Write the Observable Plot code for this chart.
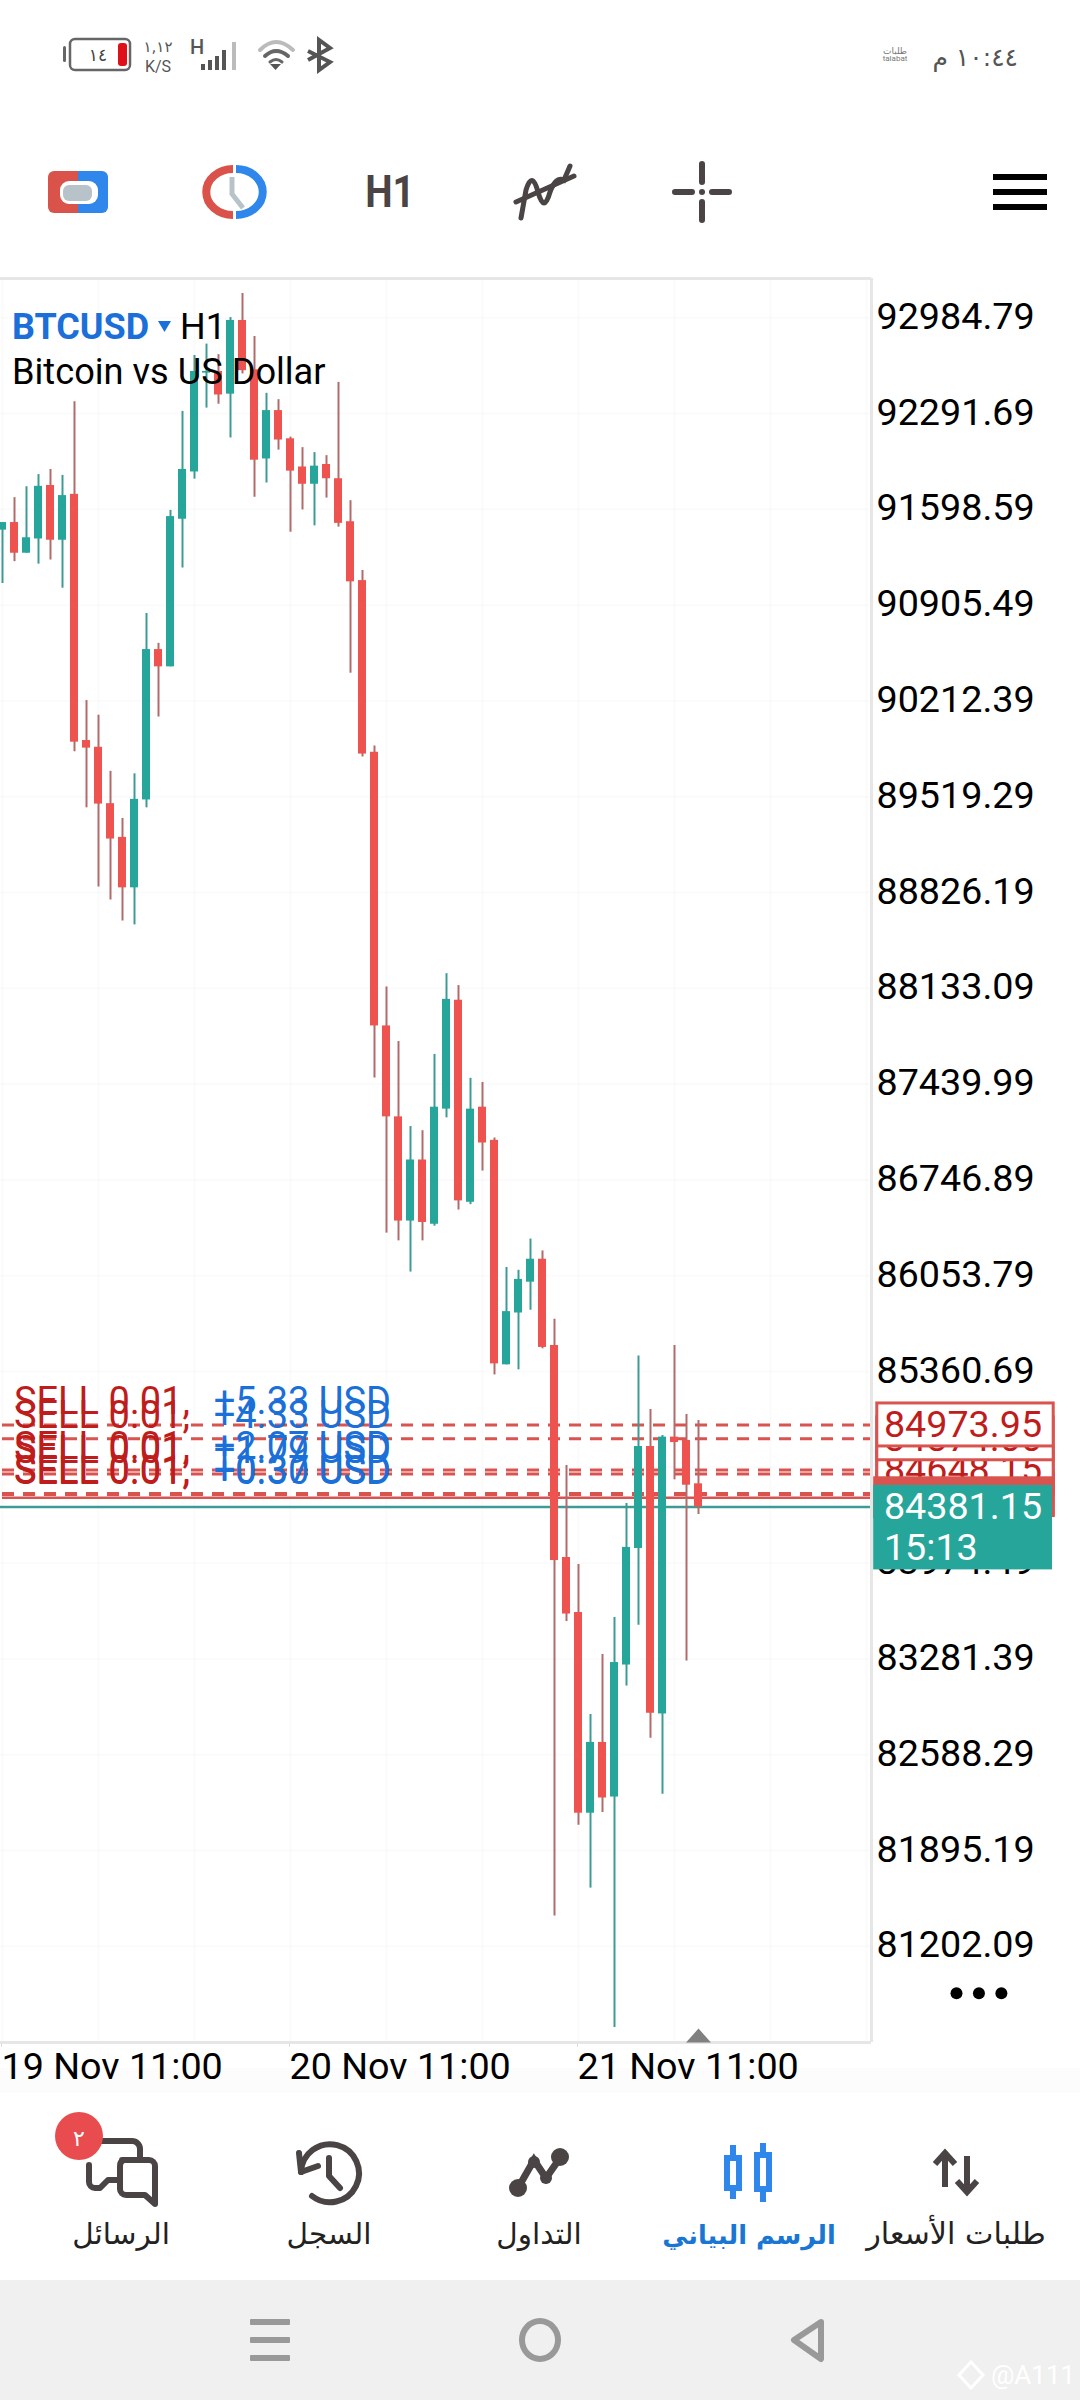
<!DOCTYPE html>
<html><head><meta charset="utf-8">
<script src="https://cdn.jsdelivr.net/npm/d3@7"></script>
<script src="https://cdn.jsdelivr.net/npm/@observablehq/plot@0.6"></script>
<style>
html,body{margin:0;padding:0;background:#fff;width:1080px;height:2400px;overflow:hidden;font-family:Roboto,sans-serif}
#chart{position:absolute;left:0;top:270px;width:1080px}
#chart svg{display:block;background:transparent}
#chrome{position:absolute;left:0;top:0}
.t{position:absolute;font-family:Roboto;white-space:nowrap}
</style></head><body>
<svg id="chrome" width="1080" height="2400" viewBox="0 0 1080 2400" xmlns="http://www.w3.org/2000/svg">
  <rect x="0" y="2068" width="1080" height="25" fill="#fcfcfc"/>
  <rect x="0" y="2280" width="1080" height="120" fill="#f0f0f0"/>
  <!-- status bar -->
  <rect x="63" y="46" width="3" height="16" rx="1.5" fill="#666"/>
  <rect x="70" y="39" width="60" height="31" rx="5" fill="#fff" stroke="#666" stroke-width="2.5"/>
  <rect x="118" y="43" width="9" height="23" rx="3" fill="#e0101a"/>
  <text x="98" y="61" text-anchor="middle" font-family="DejaVu Sans" font-size="17" fill="#444">١٤</text>
  <text x="158" y="52" text-anchor="middle" font-family="DejaVu Sans" font-size="15" fill="#555">١,١٢</text>
  <text x="158" y="72" text-anchor="middle" font-family="Roboto" font-size="16" fill="#555">K/S</text>
  <text x="197" y="54" text-anchor="middle" font-family="Roboto" font-weight="500" font-size="20" fill="#555">H</text>
  <g fill="#555"><rect x="201" y="64" width="4" height="6"/><rect x="208" y="60" width="4" height="10"/><rect x="215" y="56" width="4" height="14"/><rect x="222" y="50" width="4" height="20"/></g>
  <rect x="232" y="42" width="4" height="28" fill="#bbb"/>
  <g fill="none" stroke-linecap="round"><path d="M260 50 Q276 34 293 50" stroke="#bbb" stroke-width="4"/><path d="M265 56 Q276 46 288 56" stroke="#666" stroke-width="4"/><path d="M270 62 Q276 57 282 62" stroke="#666" stroke-width="3"/></g>
  <path d="M270 64 L281 64 L275.5 70 Z" fill="#555"/>
  <path d="M308 51 L330 62 L319 70 L319 40 L330 48 L308 60" fill="none" stroke="#555" stroke-width="4"/>
  <text x="895" y="54" text-anchor="middle" font-family="DejaVu Sans" font-size="9" fill="#777">طلبات</text>
  <text x="895" y="61" text-anchor="middle" font-family="Roboto" font-size="8" fill="#777">talabat</text>
  <text x="1018" y="66" direction="rtl" text-anchor="start" font-family="DejaVu Sans" font-size="25" fill="#555">١٠:٤٤ م</text>
  <!-- toolbar -->
  <path d="M78 171 H54 a6 6 0 0 0 -6 6 V207 a6 6 0 0 0 6 6 H78 Z" fill="#d9534a"/>
  <path d="M78 171 H102 a6 6 0 0 1 6 6 V207 a6 6 0 0 1 -6 6 H78 Z" fill="#2f86eb"/>
  <rect x="60" y="181" width="38" height="23" rx="9" fill="#fff"/>
  <rect x="63" y="185" width="29" height="16" rx="6" fill="#b7c3c9"/>
  <path d="M233 169 A25 21.5 0 0 0 233 215" fill="none" stroke="#d9534a" stroke-width="8"/>
  <path d="M236 169 A25 21.5 0 0 1 236 215" fill="none" stroke="#2f86eb" stroke-width="8"/>
  <path d="M232 177 L232 194 L243 208" fill="none" stroke="#b7c3c9" stroke-width="5"/>
  <text x="390" y="207" text-anchor="middle" font-family="Roboto" font-weight="700" font-size="44" fill="#4a4444" transform="translate(390 0) scale(.88 1) translate(-390 0)">H1</text>
  <g fill="none" stroke="#4a4444" stroke-width="5" stroke-linecap="round">
    <path d="M521 218 L526 190 Q532 170 538 192 Q544 214 550 192 Q556 176 564 180 L570 166"/>
    <path d="M516 202 L574 176"/>
  </g>
  <g stroke="#4a4444" stroke-width="6" stroke-linecap="round"><path d="M702 164 V182 M702 202 V220 M675 192 H692 M712 192 H729"/></g>
  <circle cx="702" cy="192" r="3" fill="#4a4444"/>
  <g fill="#000"><rect x="993" y="174" width="54" height="6"/><rect x="993" y="189" width="54" height="6"/><rect x="993" y="204" width="54" height="6"/></g>
  <!-- bottom nav icons -->
  <g transform="translate(0 2000)" fill="none" stroke="#4a4444" stroke-width="6" stroke-linecap="round" stroke-linejoin="round">
    <path d="M100 141 H132 a8 8 0 0 1 8 8 V158 M89 165 V182 a6 6 0 0 0 6 6 H100 L108 180 H118"/>
    <path d="M122 160 H149 a6 6 0 0 1 6 6 V204 L145 195 H126 a6 6 0 0 1 -6 -6 V166 a6 6 0 0 1 4 -6"/>
  </g>
  <circle cx="79" cy="2136" r="24" fill="#e84c4f"/>
  <text x="79" y="2146" text-anchor="middle" font-family="DejaVu Sans" font-size="22" fill="#fff">٢</text>
  <g fill="none" stroke="#4a4444" stroke-width="6" stroke-linecap="round" stroke-linejoin="round">
    <path d="M301 2172 A29 29 0 1 1 312 2196"/><path d="M299 2153 L301 2172 L318 2166"/><path d="M329 2158 V2176 L340 2188"/>
  </g>
  <g fill="none" stroke="#4a4444" stroke-width="7" stroke-linecap="round"><path d="M518 2188 L534 2160 L546 2178 L560 2158"/></g>
  <g fill="#4a4444"><circle cx="518" cy="2188" r="9"/><circle cx="534" cy="2162" r="6"/><circle cx="546" cy="2178" r="6"/><circle cx="560" cy="2157" r="9"/></g>
  <g fill="none" stroke="#2f86eb" stroke-width="6"><rect x="727" y="2158" width="12" height="30"/><rect x="757" y="2155" width="12" height="34"/></g>
  <g stroke="#2f86eb" stroke-width="6"><path d="M733 2145 V2158 M733 2188 V2199 M763 2143 V2155 M763 2189 V2202"/></g>
  <g fill="none" stroke="#4a4444" stroke-width="6"><path d="M945 2156 V2187 M935 2164 L945 2153 L955 2164"/><path d="M967 2156 V2190 M957 2181 L967 2192 L977 2181"/></g>
  <g font-family="DejaVu Sans" font-size="29.5" text-anchor="middle" fill="#222" direction="rtl">
    <text x="121" y="2244">الرسائل</text>
    <text x="329" y="2244">السجل</text>
    <text x="539" y="2244">التداول</text>
    <text x="749" y="2244" fill="#1976d2" font-weight="700" font-size="25.7">الرسم البياني</text>
    <text x="956" y="2244" font-size="30.2">طلبات الأسعار</text>
  </g>
  <!-- android nav -->
  <g fill="#999"><rect x="250" y="2319" width="40" height="6" rx="1"/><rect x="250" y="2337" width="40" height="6" rx="1"/><rect x="250" y="2355" width="40" height="6" rx="1"/></g>
  <ellipse cx="540" cy="2340" rx="18" ry="19" fill="none" stroke="#999" stroke-width="6"/>
  <path d="M821 2322 L794 2340 L821 2359 Z" fill="none" stroke="#999" stroke-width="6" stroke-linejoin="round"/>
  <path d="M971 2362 L983 2375 L971 2388 L959 2375 Z" fill="none" stroke="#fff" stroke-width="3"/>
  <text x="991" y="2384" font-family="Roboto" font-size="26" fill="#fff">@A111</text>
</svg>
<div id="chart"></div>
<div class="t" style="left:12px;top:302px;font-size:36px;font-weight:700;color:#1a6fd8;line-height:50px">BTCUSD</div>
<svg style="position:absolute;left:158px;top:321px" width="14" height="12"><path d="M0 0 H13 L6.5 11 Z" fill="#1a6fd8"/></svg>
<div class="t" style="left:180px;top:302px;font-size:36px;color:#000;line-height:50px">H1</div>
<div class="t" style="left:12px;top:347px;font-size:36.2px;color:#000;line-height:50px">Bitcoin vs US Dollar</div>
<script>
const opens = [91448,91503,91281,91384,91771,91375,91707,89926,89877,89469,89225,88860,89496,90584,90459,91527,91869,92584,92596,92432,92965,92608,91963,92313,92109,91905,91780,91923,91820,91509,91083,89841,87861,87203,86449,86891,86426,87259,88047,86585,87273,87033,85409,85784,86007,86173,85549,84015,83617,82165,82677,82282,83237,84080,84818,82883,84886,84862,84548];
const closes = [91503,91281,91393,91765,91375,91698,89914,89871,89466,89213,88860,89500,90584,90459,91546,91887,92596,92596,92426,92965,92602,91954,92313,92100,91875,91780,91911,91820,91497,91074,89828,87861,87203,86449,86891,86439,87273,88053,86595,87259,87014,85416,85794,86027,86173,85535,83993,83606,82165,82677,82275,83255,84088,84818,82888,84886,84847,84538,84381];
const highs = [91503,91683,91762,91850,91887,91844,92377,90215,90109,89703,89362,89685,90845,90629,91591,92307,92712,92794,92718,92986,93160,92849,92438,92392,92121,92045,92009,91987,92517,91661,91156,89887,88143,87748,87133,87103,87655,88239,88153,87482,87452,87050,86113,86093,86319,86233,85738,84681,83964,82879,83313,83581,84406,85472,85086,84898,85549,85050,85006];
const lows = [91062,91220,91281,91202,91232,91028,89844,89439,88866,88772,88620,88592,89439,90096,90459,91174,91817,92331,92359,92115,92578,91686,91789,92027,91433,91594,91479,91680,91470,90413,89807,87485,86362,86306,86080,86306,86412,87196,86529,86568,86811,85336,85409,85373,85804,85525,81421,83552,82078,81623,82170,80615,83085,83525,82708,82303,84577,83266,84326];

const priceTicks = [92984.79,92291.69,91598.59,90905.49,90212.39,89519.29,88826.19,88133.09,87439.99,86746.89,86053.79,85360.69,84667.59,83974.49,83281.39,82588.29,81895.19,81202.09];
const timeTicks = [0,24,48];
const timeLabels = ["19 Nov 11:00","20 Nov 11:00","21 Nov 11:00"];
const gridTimes = [0,8,16,24,32,40,48,56,64,72];

const orderPrices = [84973.95,84874.00,84648.15,84620.00,84478.00,84470.00];
const orderProfits = ["+5.33 USD","+4.33 USD","+2.07 USD","+1.79 USD","+0.37 USD","+0.30 USD"];
const orderLabel = "SELL 0.01,";
const askPrice = 84447;
const bidPrice = 84381.15;
const countdown = "15:13";
const markerIndex = 58;

const RED="#ef5350", TEAL="#26a69a", RW="#b26a6a", TW="#3f9a95", LINE="#d9534f", DRED="#bf1c1c", BLUE="#1a6fd8";
const candles = opens.map((o,i)=>({i,open:o,close:closes[i],high:highs[i],low:lows[i]}));
const up = candles.filter(d=>d.close>=d.open), down = candles.filter(d=>d.close<d.open);
const orders = orderPrices.map((price,k)=>({price,profit:orderProfits[k]}));
const pxPerUnitY = 7.235;           // price units per screen pixel
const axisX0 = 72.9, axisX1 = 87.6; // price-tag columns, in candle slots
const F = 37.7;

const tagMarks = orders.slice().reverse().flatMap(o=>[
  Plot.rect([o],{x1:axisX0,x2:axisX1,y1:d=>d.price+21.5*pxPerUnitY,y2:d=>d.price-21.5*pxPerUnitY,fill:"#fff",stroke:LINE,strokeWidth:3}),
  Plot.text([o],{x:axisX0+0.55,y:"price",text:d=>d.price.toFixed(2),textAnchor:"start",fontSize:F,fill:DRED})
]);

const chart = Plot.plot({
  width:1080,height:1840,
  marginLeft:0,marginRight:209,marginTop:8,marginBottom:68,
  style:{fontFamily:"Roboto",background:"transparent",overflow:"visible"},
  x:{domain:[-1/6,72.4167],range:[0,871]},
  y:{domain:[80506,93268.7]},
  marks:[
    Plot.gridX(gridTimes,{stroke:"#000",strokeOpacity:0.015,strokeWidth:2}),
    Plot.gridY(priceTicks,{stroke:"#000",strokeOpacity:0.015,strokeWidth:2}),
    Plot.axisY({anchor:"right",ticks:priceTicks,tickSize:0,tickPadding:5,fontSize:F,tickFormat:d=>d.toFixed(2),label:null,color:"#000",fill:"#000",fillOpacity:1,dy:-1}),
    Plot.axisX({ticks:timeTicks,tickSize:5,tickPadding:5,fontSize:F,textAnchor:"start",tickFormat:d=>timeLabels[timeTicks.indexOf(d)],label:null,stroke:"#ddd",fill:"#000",dx:-1}),
    Plot.ruleY(orders,{y:"price",stroke:LINE,strokeWidth:3,strokeDasharray:"12,9",x1:0,x2:72.4167}),
    Plot.ruleY([askPrice],{x1:0,x2:72.4167,stroke:LINE,strokeWidth:2.5}),
    Plot.ruleY([bidPrice],{x1:-1/6,x2:72.4167,stroke:TW,strokeWidth:2.5}),
    Plot.ruleX(up,{x:"i",y1:"low",y2:"high",stroke:TW,strokeWidth:2,clip:"frame"}),
    Plot.ruleX(down,{x:"i",y1:"low",y2:"high",stroke:RW,strokeWidth:2,clip:"frame"}),
    Plot.rect(up,{x1:d=>d.i-1/3,x2:d=>d.i+1/3,y1:"open",y2:"close",fill:TEAL,clip:"frame"}),
    Plot.rect(down,{x1:d=>d.i-1/3,x2:d=>d.i+1/3,y1:"open",y2:"close",fill:RED,clip:"frame"}),
    Plot.text(orders,{x:0.95,y:"price",text:()=>orderLabel,textAnchor:"start",fontSize:38,fill:DRED,dy:-23}),
    Plot.text(orders,{x:17.6,y:"price",text:"profit",textAnchor:"start",fontSize:38,fill:BLUE,dy:-23}),
    Plot.ruleY([93268.7],{x1:-1/6,x2:72.4167,stroke:"#e6e6e6",strokeWidth:3}),
    Plot.ruleY([80506],{x1:-1/6,x2:72.4167,stroke:"#e6e6e6",strokeWidth:3}),
    Plot.ruleX([72.4167],{y1:80506,y2:93268.7,stroke:"#e6e6e6",strokeWidth:3}),
    Plot.dot([markerIndex],{x:d=>d,y:80506,fill:"#808080",dy:-7,symbol:{draw(c,s){const r=Math.sqrt(s);c.moveTo(0,-r*0.44);c.lineTo(r*0.78,r*0.44);c.lineTo(-r*0.78,r*0.44);c.closePath();}},r:9}),
    ...tagMarks,
    Plot.rect([askPrice],{x1:72.6,x2:87.5,y1:d=>d+21*pxPerUnitY,y2:d=>d-21*pxPerUnitY,fill:LINE}),
    Plot.rect([bidPrice],{x1:72.6,x2:87.5,y1:d=>d+21.5*pxPerUnitY,y2:d=>d-63*pxPerUnitY,fill:TEAL}),
    Plot.text([bidPrice],{x:73.45,y:d=>d,text:d=>d.toFixed(2),textAnchor:"start",fontSize:F,fill:"#fff"}),
    Plot.text([bidPrice],{x:73.45,y:d=>d,text:()=>countdown,textAnchor:"start",fontSize:F,fill:"#fff",dy:41}),
    Plot.dot([0,1,2],{x:d=>79.5+d*1.87,y:81202.09,r:6,fill:"#000",dy:47})
  ]
});
document.getElementById("chart").appendChild(chart);
</script>
</body></html>
